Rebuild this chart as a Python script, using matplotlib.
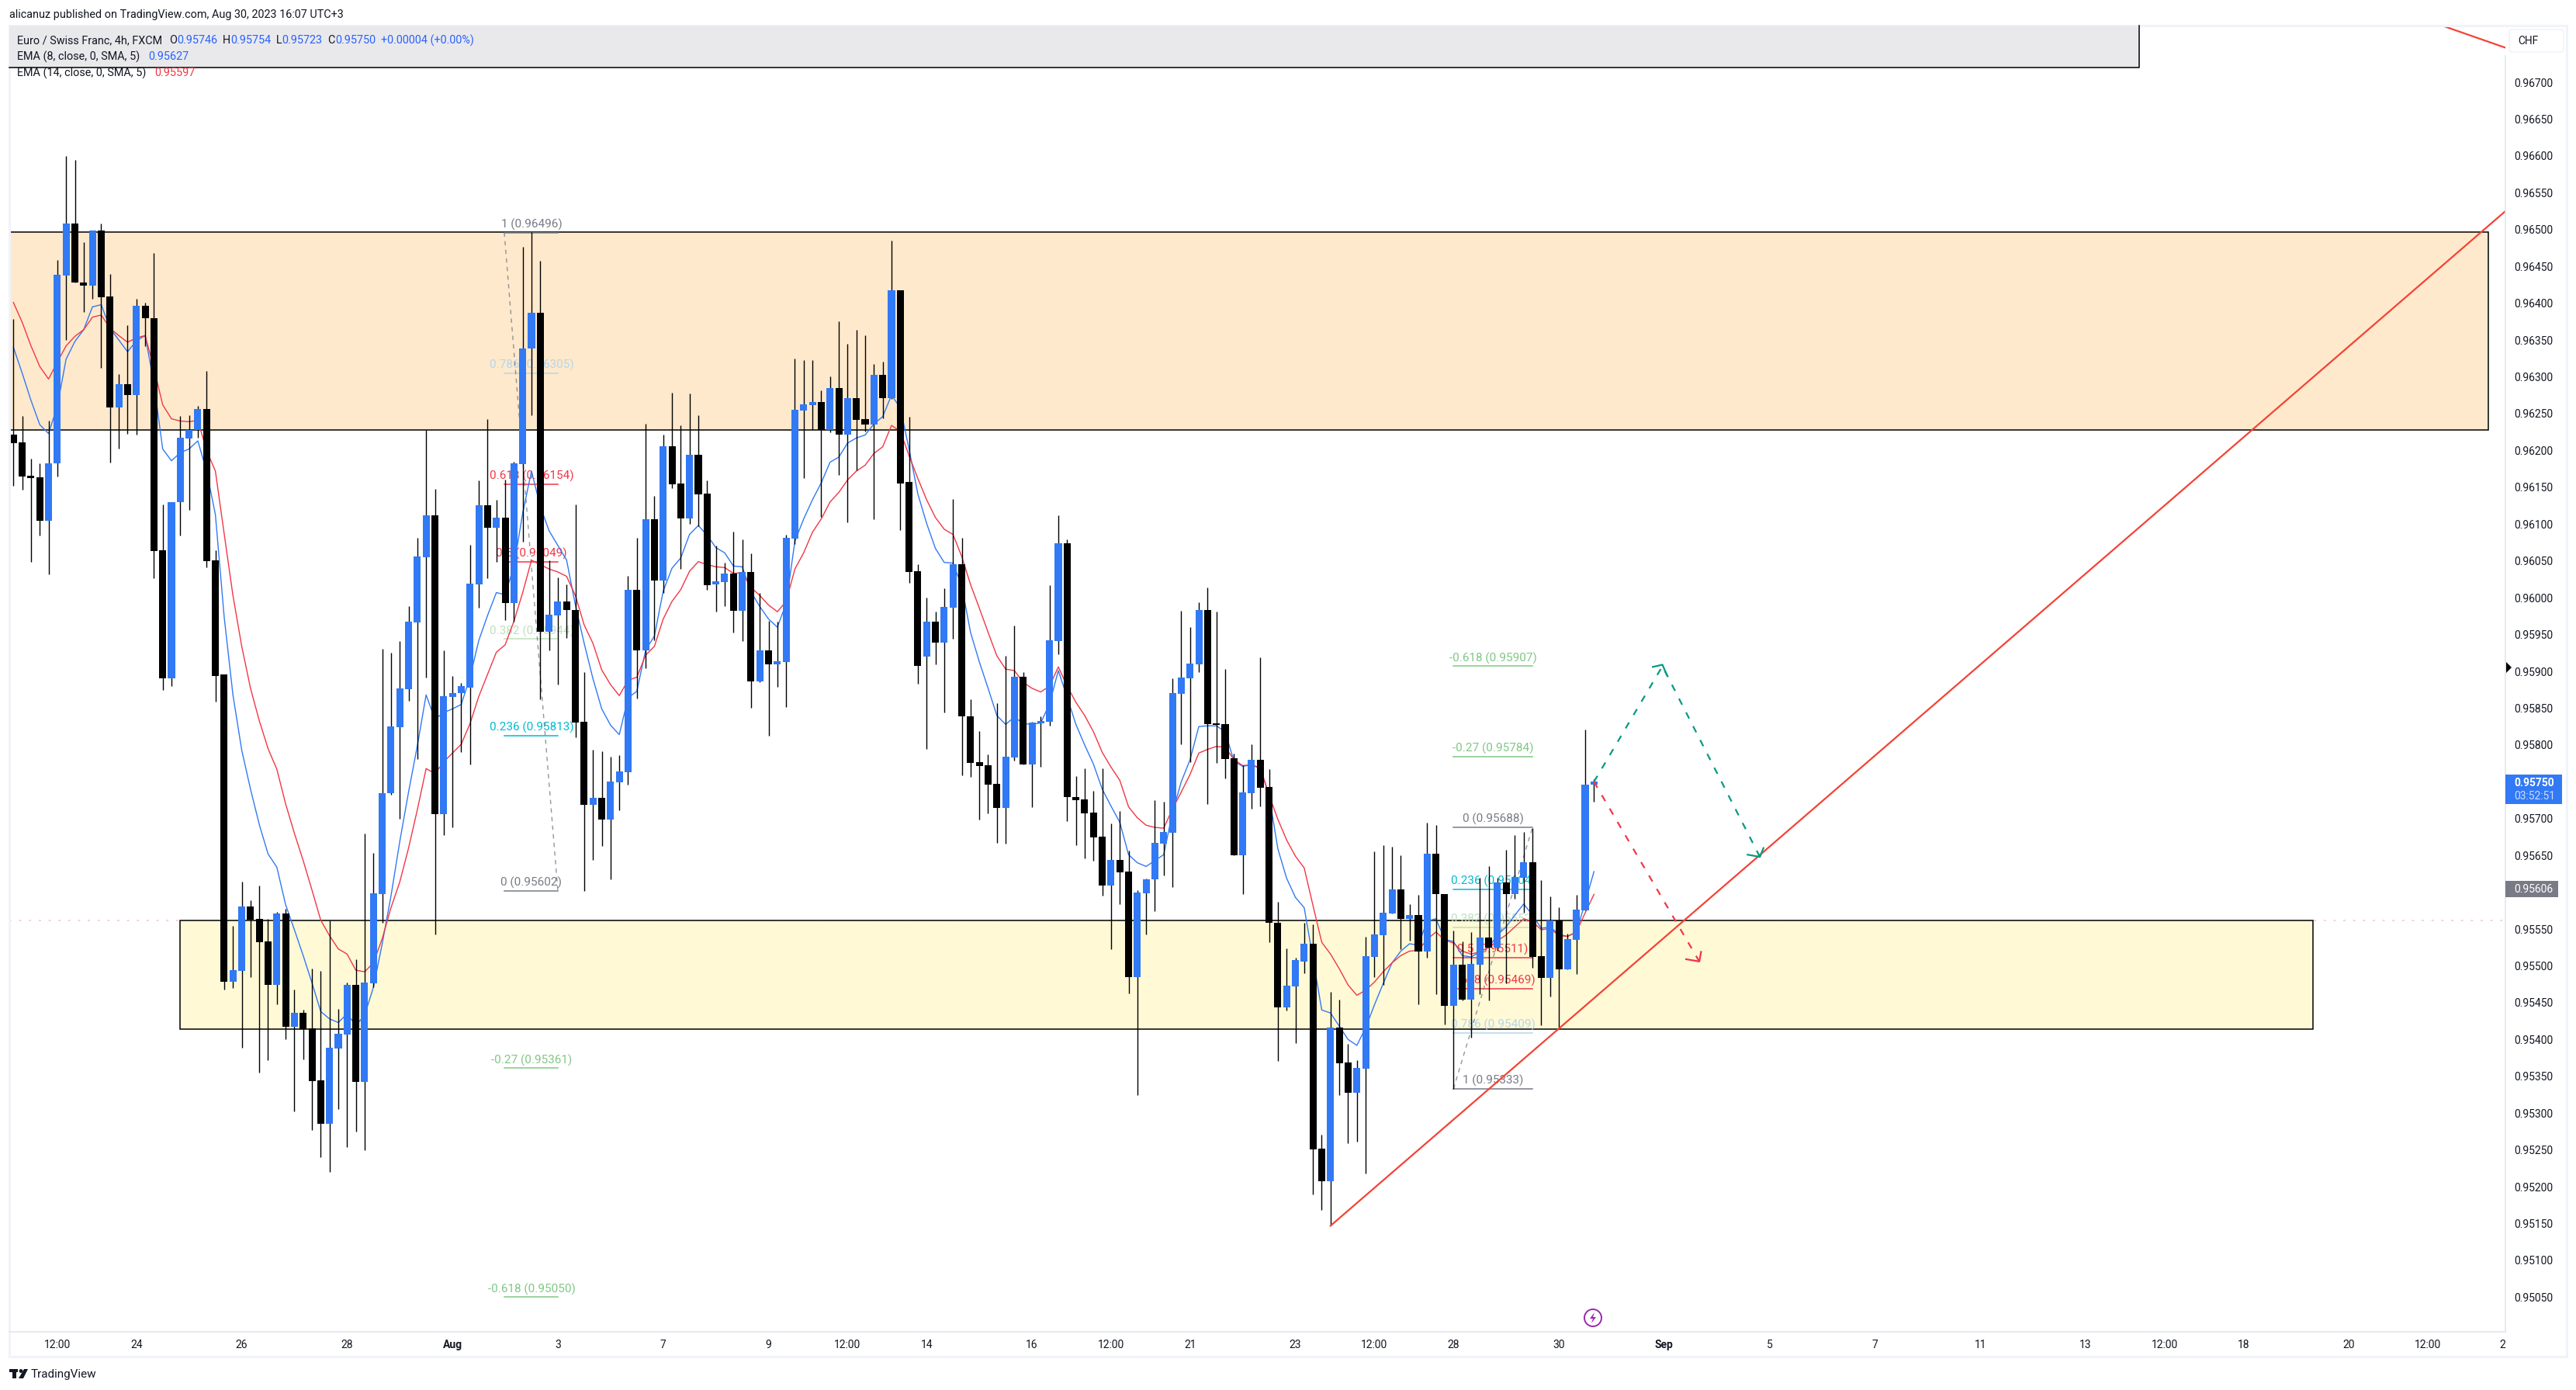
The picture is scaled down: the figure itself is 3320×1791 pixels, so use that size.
import matplotlib
matplotlib.use('Agg')
import matplotlib.pyplot as plt
import numpy as np
from matplotlib.patches import Rectangle, Polygon, Circle, FancyBboxPatch

plt.rcParams['font.family'] = ['Roboto', 'DejaVu Sans']

# prices in 1/100000, candle by candle
opens = [96222, 96211, 96166, 96164, 96105, 96182, 96438, 96508, 96428, 96424,
         96499, 96409, 96258, 96290, 96275, 96396, 96380, 96064, 95891, 96130,
         96216, 96228, 96256, 96051, 95896, 95478, 95493, 95581, 95564, 95533,
         95474, 95571, 95417, 95436, 95415, 95344, 95286, 95388, 95407, 95474,
         95342, 95476, 95598, 95734, 95824, 95876, 95966, 96055, 96112, 95706,
         95865, 95870, 95878, 96018, 96126, 96095, 96109, 95993, 96181, 96338,
         96387, 95954, 95976, 95995, 95983, 95831, 95719, 95728, 95699, 95749,
         95763, 96011, 95929, 96107, 96023, 96206, 96155, 96108, 96194, 96141,
         96018, 96021, 96033, 95982, 96035, 95886, 95929, 95909, 95913, 96080,
         96254, 96262, 96266, 96228, 96285, 96221, 96271, 96243, 96235, 96303,
         96271, 96418, 96157, 96036, 95920, 95967, 95939, 95986, 96045, 95839,
         95777, 95772, 95747, 95715, 95783, 95893, 95773, 95829, 95832, 95941,
         96074, 95729, 95726, 95708, 95675, 95609, 95644, 95628, 95485, 95599,
         95617, 95666, 95681, 95869, 95891, 95910, 95983, 95829, 95828, 95782,
         95650, 95735, 95780, 95743, 95559, 95444, 95472, 95506, 95530, 95252,
         95207, 95416, 95369, 95328, 95360, 95512, 95542, 95571, 95604, 95564,
         95569, 95520, 95652, 95598, 95446, 95502, 95454, 95502, 95538, 95525,
         95613, 95597, 95620, 95641, 95513, 95484, 95562, 95495, 95535, 95575,
         95746]
closes = [96210, 96165, 96163, 96105, 96183, 96439, 96508, 96428, 96424, 96499,
          96408, 96258, 96290, 96275, 96396, 96380, 96063, 95891, 96130, 96217,
          96228, 96256, 96050, 95894, 95478, 95494, 95581, 95563, 95532, 95474,
          95571, 95417, 95436, 95414, 95343, 95286, 95389, 95408, 95474, 95342,
          95477, 95599, 95735, 95825, 95877, 95967, 96056, 96112, 95706, 95866,
          95871, 95880, 96019, 96126, 96095, 96109, 95993, 96182, 96339, 96387,
          95954, 95977, 95995, 95983, 95830, 95719, 95728, 95699, 95750, 95764,
          96011, 95929, 96107, 96023, 96206, 96154, 96108, 96194, 96140, 96017,
          96022, 96033, 95982, 96035, 95886, 95929, 95909, 95914, 96081, 96255,
          96263, 96266, 96228, 96285, 96221, 96271, 96242, 96235, 96303, 96271,
          96418, 96155, 96035, 95907, 95967, 95939, 95987, 96045, 95839, 95776,
          95771, 95746, 95715, 95784, 95893, 95773, 95830, 95833, 95942, 96074,
          95729, 95725, 95707, 95674, 95609, 95644, 95627, 95485, 95600, 95618,
          95667, 95682, 95870, 95892, 95911, 95983, 95828, 95827, 95781, 95650,
          95736, 95780, 95742, 95558, 95444, 95473, 95508, 95530, 95251, 95207,
          95416, 95368, 95328, 95361, 95513, 95543, 95572, 95604, 95564, 95569,
          95520, 95652, 95597, 95446, 95502, 95454, 95503, 95538, 95525, 95613,
          95597, 95621, 95641, 95512, 95484, 95562, 95495, 95536, 95576, 95746,
          95750]
highs = [96379, 96247, 96189, 96183, 96241, 96459, 96600, 96595, 96483, 96499,
         96508, 96440, 96304, 96370, 96406, 96401, 96468, 96127, 96130, 96247,
         96248, 96261, 96308, 96064, 95896, 95554, 95614, 95589, 95609, 95564,
         95573, 95577, 95468, 95440, 95496, 95493, 95562, 95441, 95477, 95509,
         95680, 95653, 95931, 95925, 95941, 95989, 96081, 96228, 96148, 95929,
         95894, 95884, 96072, 96159, 96243, 96133, 96160, 96185, 96477, 96497,
         96458, 96051, 96028, 96018, 96127, 95899, 95794, 95791, 95784, 95786,
         96030, 96081, 96236, 96138, 96221, 96278, 96234, 96277, 96248, 96159,
         96071, 96048, 96090, 96079, 96060, 96007, 95969, 95967, 96086, 96325,
         96323, 96323, 96282, 96301, 96375, 96345, 96364, 96356, 96317, 96321,
         96485, 96418, 96246, 96046, 96000, 95981, 96013, 96134, 96081, 95862,
         95819, 95787, 95857, 95921, 95962, 95899, 95832, 95839, 96017, 96112,
         96079, 95758, 95768, 95738, 95768, 95693, 95710, 95656, 95603, 95619,
         95725, 95723, 95891, 95982, 95960, 95994, 96014, 95981, 95903, 95788,
         95772, 95801, 95919, 95767, 95587, 95524, 95511, 95559, 95556, 95271,
         95465, 95454, 95394, 95372, 95540, 95655, 95664, 95662, 95650, 95584,
         95596, 95694, 95691, 95598, 95548, 95533, 95546, 95620, 95635, 95620,
         95658, 95678, 95682, 95687, 95616, 95594, 95580, 95544, 95596, 95821,
         95754]
lows = [96152, 96147, 96049, 96084, 96032, 96165, 96350, 96428, 96388, 96406,
        96312, 96184, 96203, 96223, 96221, 96342, 96026, 95875, 95880, 96085,
        96119, 96217, 96041, 95859, 95468, 95470, 95389, 95485, 95355, 95372,
        95448, 95400, 95302, 95373, 95277, 95240, 95220, 95306, 95254, 95275,
        95250, 95471, 95558, 95732, 95700, 95860, 95781, 95892, 95543, 95678,
        95688, 95790, 95774, 95986, 96026, 96049, 95970, 95968, 96076, 96248,
        95862, 95929, 95882, 95945, 95810, 95602, 95644, 95663, 95617, 95711,
        95746, 95863, 95904, 95942, 96006, 96149, 96039, 96100, 96097, 96011,
        95981, 95989, 95953, 95941, 95850, 95885, 95812, 95879, 95851, 96073,
        96163, 96228, 96110, 96225, 96167, 96102, 96173, 96226, 96107, 96244,
        96270, 96092, 96020, 95883, 95795, 95909, 95844, 95944, 95759, 95757,
        95699, 95707, 95667, 95666, 95779, 95773, 95716, 95770, 95826, 95923,
        95697, 95664, 95646, 95643, 95595, 95523, 95584, 95463, 95324, 95543,
        95574, 95623, 95607, 95801, 95777, 95899, 95720, 95776, 95755, 95650,
        95597, 95713, 95717, 95532, 95371, 95439, 95395, 95490, 95190, 95169,
        95147, 95324, 95259, 95261, 95218, 95485, 95474, 95571, 95523, 95534,
        95448, 95511, 95461, 95420, 95333, 95453, 95402, 95462, 95453, 95521,
        95476, 95591, 95572, 95497, 95419, 95458, 95414, 95495, 95489, 95575,
        95723]
ema8 = [96340, 96305, 96268, 96235, 96223, 96260, 96324, 96348, 96364, 96395,
        96398, 96366, 96350, 96334, 96349, 96356, 96291, 96202, 96186, 96197,
        96202, 96213, 96172, 96113, 95974, 95868, 95793, 95740, 95692, 95652,
        95634, 95583, 95549, 95514, 95477, 95438, 95428, 95423, 95435, 95419,
        95433, 95471, 95530, 95595, 95669, 95736, 95799, 95868, 95835, 95844,
        95849, 95855, 95892, 95942, 95976, 96007, 96004, 96043, 96115, 96172,
        96124, 96091, 96071, 96051, 95990, 95938, 95890, 95849, 95827, 95814,
        95864, 95873, 95929, 95948, 96009, 96040, 96054, 96086, 96098, 96085,
        96068, 96061, 96043, 96042, 96008, 95988, 95971, 95960, 95992, 96077,
        96107, 96133, 96156, 96184, 96191, 96210, 96217, 96221, 96236, 96246,
        96275, 96258, 96202, 96141, 96101, 96067, 96048, 96047, 96016, 95953,
        95913, 95877, 95840, 95828, 95838, 95829, 95828, 95830, 95856, 95901,
        95865, 95828, 95800, 95774, 95740, 95717, 95695, 95651, 95640, 95635,
        95643, 95651, 95708, 95750, 95780, 95825, 95826, 95826, 95818, 95778,
        95771, 95773, 95768, 95732, 95659, 95619, 95593, 95579, 95510, 95440,
        95436, 95418, 95400, 95392, 95416, 95447, 95476, 95504, 95520, 95530,
        95528, 95561, 95564, 95536, 95533, 95514, 95512, 95519, 95525, 95542,
        95553, 95569, 95584, 95569, 95551, 95553, 95543, 95540, 95546, 95586,
        95628]
ema14 = [96401, 96374, 96342, 96314, 96297, 96320, 96342, 96355, 96364, 96381,
         96384, 96366, 96356, 96347, 96353, 96356, 96312, 96262, 96243, 96240,
         96239, 96241, 96200, 96172, 96087, 96003, 95934, 95877, 95833, 95795,
         95767, 95720, 95680, 95643, 95603, 95562, 95541, 95523, 95516, 95494,
         95492, 95504, 95537, 95579, 95614, 95660, 95712, 95768, 95761, 95777,
         95789, 95801, 95829, 95866, 95896, 95926, 95936, 95968, 96007, 96051,
         96045, 96039, 96035, 96029, 96003, 95963, 95938, 95902, 95882, 95867,
         95888, 95892, 95922, 95934, 95971, 95995, 96011, 96036, 96049, 96045,
         96042, 96041, 96033, 96034, 96014, 96003, 95990, 95981, 95995, 96039,
         96061, 96089, 96107, 96130, 96143, 96160, 96172, 96180, 96196, 96205,
         96234, 96226, 96193, 96162, 96133, 96109, 96093, 96086, 96056, 96018,
         95986, 95953, 95921, 95903, 95901, 95885, 95877, 95872, 95880, 95906,
         95880, 95858, 95840, 95818, 95790, 95770, 95752, 95716, 95701, 95691,
         95688, 95687, 95713, 95736, 95760, 95789, 95794, 95798, 95797, 95780,
         95772, 95773, 95769, 95732, 95699, 95671, 95649, 95633, 95582, 95532,
         95516, 95496, 95474, 95460, 95467, 95478, 95492, 95504, 95514, 95520,
         95521, 95536, 95546, 95535, 95531, 95520, 95516, 95519, 95525, 95534,
         95542, 95553, 95564, 95560, 95549, 95551, 95541, 95540, 95546, 95572,
         95597]

price_ticks = [0.96700 - 0.0005 * n for n in range(34)]
time_pos = [5, 14, 26, 38, 50, 62, 74, 86, 95, 104, 116, 125, 134, 146, 155,
            164, 176, 188, 200, 212, 224, 236, 245, 254, 266, 275, 283.5]
time_labels = ['12:00', '24', '26', '28', 'Aug', '3', '7', '9', '12:00', '14', '16',
               '12:00', '21', '23', '12:00', '28', '30', 'Sep', '5', '7', '11', '13',
               '12:00', '18', '20', '12:00', '2']

BLUE = '#3179F5'
RED = '#F23645'
GREY = '#787B86'
LBLUE = '#B5D6EC'
LGREEN = '#BFE0BC'
CYAN = '#00BCD4'
GREEN = '#81C784'

fib1_text = ['1 (0.96496)', '0.786 (0.96305)', '0.618 (0.96154)', '0.5 (0.96049)',
             '0.382 (0.95944)', '0.236 (0.95813)', '0 (0.95602)', '-0.27 (0.95361)',
             '-0.618 (0.95050)']
fib1_price = [0.96496, 0.96305, 0.96154, 0.96049, 0.95944, 0.95813, 0.95602, 0.95361, 0.95050]
fib2_text = ['0 (0.95688)', '0.236 (0.95604)', '0.382 (0.95552)', '0.5 (0.95511)',
             '0.618 (0.95469)', '0.786 (0.95409)', '1 (0.95333)', '-0.27 (0.95784)',
             '-0.618 (0.95907)']
fib2_price = [0.95688, 0.95604, 0.95552, 0.95511, 0.95469, 0.95409, 0.95333, 0.95784, 0.95907]
fib1_colors = [GREY, LBLUE, RED, RED, LGREEN, CYAN, GREY, GREEN, GREEN]
fib2_colors = [GREY, CYAN, LGREEN, RED, RED, LBLUE, GREY, GREEN, GREEN]

W, H = 3320, 1791
fig = plt.figure(figsize=(W / 100, H / 100), dpi=100, facecolor='white')
L, R, T, B = 12, 3229, 33, 1716
ax = fig.add_axes([L / W, 1 - B / H, (R - L) / W, (B - T) / H])
ax.set_xlim(-0.468, 283.8)
ax.set_ylim(0.95003, 0.96777)
for s in ax.spines.values():
    s.set_visible(False)

o = np.array(opens) / 1e5
c = np.array(closes) / 1e5
h = np.array(highs) / 1e5
l = np.array(lows) / 1e5
x = np.arange(len(o))
colors = [BLUE if a > b else 'black' for a, b in zip(c, o)]

# zones
ax.add_patch(Rectangle((-3, 0.96228), 284.9, 0.96497 - 0.96228, fc='#FFE9CC', ec='black', lw=1.1, zorder=1))
ax.add_patch(Rectangle((19, 0.95414), 242.9, 0.95562 - 0.95414, fc='#FFF9D6', ec='black', lw=1.1, zorder=1))
ax.axhline(0.95562, color='#F7CFD8', lw=1.4, ls=(0, (1.5, 5)), zorder=0.5)

# fib tools
for txt, p, col in zip(fib1_text, fib1_price, fib1_colors):
    ax.plot([55.9, 62], [p, p], color=col, lw=1.1, zorder=2)
    ax.annotate(txt, (59, p), xytext=(0, 7.5), textcoords='offset points', ha='center', va='center',
                color=col, fontsize=11, zorder=2)
ax.plot([55.9, 62], [0.96496, 0.95602], color=GREY, lw=1, ls=(0, (4, 4)), alpha=0.8, zorder=2)
for txt, p, col in zip(fib2_text, fib2_price, fib2_colors):
    ax.plot([164, 173], [p, p], color=col, lw=1.1, zorder=2)
    ax.annotate(txt, (168.5, p), xytext=(0, 7.5), textcoords='offset points', ha='center', va='center',
                color=col, fontsize=11, zorder=2)
ax.plot([164, 173], [0.95333, 0.95688], color=GREY, lw=1, ls=(0, (4, 4)), alpha=0.8, zorder=2)

# emas go under the candles
ax.plot(x, np.array(ema8) / 1e5, color=BLUE, lw=1.0, zorder=3)
ax.plot(x, np.array(ema14) / 1e5, color=RED, lw=1.0, zorder=3)

# candles
ax.vlines(x, l, h, color='black', lw=1.0, zorder=4)
ax.bar(x, np.abs(c - o), bottom=np.minimum(o, c), width=0.8, color=colors, lw=0, zorder=5)

# trend lines
ax.plot([150, 283.8], [0.95147, 0.96525], color='#F44336', lw=1.6, zorder=6)
ax.plot([276.6, 283.8], [0.96777, 0.96747], color='#F44336', lw=1.6, zorder=6)

# projected paths
dash = (0, (4, 5))
ax.plot([180, 187.8, 198.9], [0.95750, 0.95907, 0.95648], color='#089981', lw=1.6, ls=dash, zorder=6)
ax.plot([186.7, 187.8, 188.3], [0.95906, 0.95909, 0.95895], color='#089981', lw=1.6, zorder=6)
ax.plot([197.5, 198.9, 199.3], [0.95651, 0.95648, 0.95660], color='#089981', lw=1.6, zorder=6)
ax.plot([180, 192], [0.95750, 0.95506], color=RED, lw=1.6, ls=dash, zorder=6)
ax.plot([190.5, 192, 192.2], [0.95509, 0.95506, 0.95519], color=RED, lw=1.6, zorder=6)

# axes
ax.yaxis.tick_right()
ax.set_yticks(price_ticks)
ax.set_yticklabels(['%.5f' % v for v in price_ticks])
ax.set_xticks(time_pos)
ax.set_xticklabels(time_labels)
ax.tick_params(axis='y', length=0, pad=8, labelsize=10, labelcolor='#131722')
ax.tick_params(axis='x', length=0, pad=7, labelsize=10, labelcolor='#131722')
for t in ax.get_xticklabels():
    if t.get_text() in ('Aug', 'Sep'):
        t.set_fontweight('bold')

# page furniture on a pixel overlay
ov = fig.add_axes([0, 0, 1, 1], zorder=10)
ov.set_xlim(0, W)
ov.set_ylim(H, 0)
ov.axis('off')
ov.patch.set_alpha(0)

FRAME = '#F0F3FA'
ov.add_patch(Rectangle((12, 33), 3296, 1715, fc='none', ec=FRAME, lw=2.2))
ov.plot([12, 3229], [1716, 1716], color='#E0E3EB', lw=1.1)
ov.plot([3229, 3229], [72, 1716], color='#E0E3EB', lw=1.1)

ov.add_patch(Rectangle((12, 33), 2745, 54, fc='#E9E9EC', ec='none', zorder=1))
ov.plot([12, 2757, 2757], [87, 87, 33], color='black', lw=1.1, zorder=2)

def label(px, py, s, col='#131722', size=10.4, **kw):
    ov.text(px, py, s, color=col, fontsize=size, va='center', ha=kw.pop('ha', 'left'), zorder=5, **kw)

label(12, 19, 'alicanuz published on TradingView.com, Aug 30, 2023 16:07 UTC+3')
label(22, 52, 'Euro / Swiss Franc, 4h, FXCM')
for px, s in [(218, 'O'), (287, 'H'), (356, 'L'), (422, 'C')]:
    label(px, 52, s)
for px, s in [(228, '0.95746'), (297, '0.95754'), (363, '0.95723'), (432, '0.95750'),
              (491, '+0.00004 (+0.00%)')]:
    label(px, 52, s, col='#2962FF')
label(22, 73, 'EMA (8, close, 0, SMA, 5)')
label(191, 73, '0.95627', col='#2962FF')
label(22, 94, 'EMA (14, close, 0, SMA, 5)')
label(199.5, 94, '0.95597', col=RED)

# currency box and price tags
ov.add_patch(FancyBboxPatch((3238, 42), 62, 21, boxstyle='round,pad=4', fc='white', ec=FRAME, lw=1.2, zorder=3))
label(3245, 53, 'CHF', size=10)
ov.add_patch(Rectangle((3229, 998), 73, 38, fc=BLUE, ec='none', zorder=3))
label(3240, 1009, '0.95750', col='white', size=10, fontweight='bold')
label(3240, 1026, '03:52:51', col='#C9DCFC', size=10)
ov.add_patch(Rectangle((3229, 1135), 68, 21, fc=GREY, ec='none', zorder=3))
label(3240, 1146, '0.95606', col='white', size=10)
ov.add_patch(Polygon([(3230, 853), (3230, 867), (3237, 860)], fc='black', ec='none', zorder=3))

# lightning marker
ov.add_patch(Circle((2053, 1698), 11, fc='white', ec='#9C27B0', lw=1.4, zorder=3))
ov.add_patch(Polygon([(2055, 1691), (2049, 1699), (2053, 1699), (2051, 1705), (2057, 1697), (2053, 1697)],
                     fc='#9C27B0', ec='none', zorder=4))

# logo
ov.add_patch(Rectangle((12, 1764), 11, 4, fc='#131722', ec='none'))
ov.add_patch(Rectangle((16, 1764), 5, 12, fc='#131722', ec='none'))
ov.add_patch(Circle((27, 1766.5), 2.4, fc='#131722', ec='none'))
ov.add_patch(Polygon([(31, 1764), (36, 1764), (30, 1776), (24, 1776)], fc='#131722', ec='none'))
label(40, 1771, 'TradingView', col='#131722', size=11)

fig.savefig('out.png', dpi=100, facecolor='white')
